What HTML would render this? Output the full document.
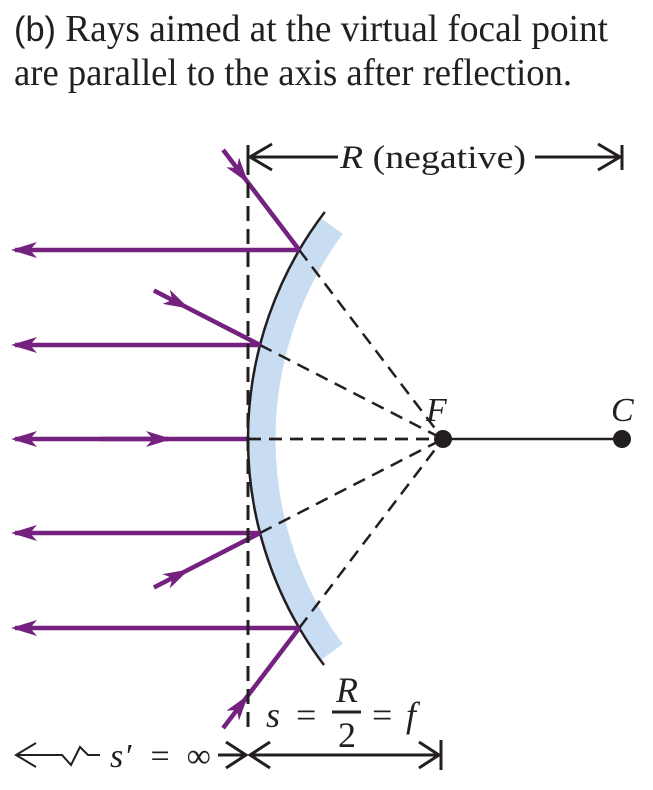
<!DOCTYPE html>
<html><head><meta charset="utf-8"><style>
html,body{margin:0;padding:0;background:#fff;}
svg{display:block;}
text{font-family:"Liberation Serif",serif;fill:#231f20;}
</style></head><body>
<svg id="fig" width="653" height="790" viewBox="0 0 653 790" xmlns="http://www.w3.org/2000/svg">
<defs>
<marker id="ah" viewBox="0 0 26 16" refX="22" refY="8" markerWidth="26" markerHeight="16" markerUnits="userSpaceOnUse" orient="auto">
<path d="M0,0 L26,8 L0,16 L7,8 Z" fill="#74217f"/>
</marker>
</defs>
<text x="14" y="41" font-size="38" textLength="594" lengthAdjust="spacingAndGlyphs"><tspan font-family="Liberation Sans, sans-serif" font-size="35">(b)</tspan> Rays aimed at the virtual focal point</text>
<text x="14" y="85" font-size="38" textLength="558" lengthAdjust="spacingAndGlyphs">are parallel to the axis after reflection.</text>
<g id="mirror"></g>
<g id="rays"></g>
<g id="dims"></g>
</svg>
<script>
const rayHitY = [250, 345, 439, 533, 628];
const rayStartT = [1.53, 1.58, 0, 1.58, 1.53];
const axisY = 439, vertexX = 248, centerX = 622, focusX = 443, R = 374;
const NS = "http://www.w3.org/2000/svg";
const P = "#74217f";
function el(tag, attrs, parent){const e=document.createElementNS(NS,tag);for(const k in attrs)e.setAttribute(k,attrs[k]);parent.appendChild(e);return e;}
function mx(y){const dy=y-axisY;return centerX-Math.sqrt(R*R-dy*dy);}
const mirror=document.getElementById('mirror'), rays=document.getElementById('rays'), dims=document.getElementById('dims');
const rb=360, a1=Math.asin(-213/rb), a2=Math.asin(213/rb);
const bx1=centerX-rb*Math.cos(a1), by1=axisY+rb*Math.sin(a1), bx2=centerX-rb*Math.cos(a2), by2=axisY+rb*Math.sin(a2);
let b=el('path',{d:`M${bx1},${by1} A${rb},${rb} 0 0 0 ${bx2},${by2}`,fill:'none',stroke:'#c9ddf2','stroke-width':27},mirror);


const ty=212, by=665;
let m=el('path',{d:`M${mx(ty)},${ty} A${R},${R} 0 0 0 ${mx(by)},${by}`,fill:'none',stroke:'#231f20','stroke-width':2.5},mirror);


let v=el('line',{x1:vertexX,y1:160,x2:vertexX,y2:735,stroke:'#231f20','stroke-width':3,'stroke-dasharray':'15 8'},dims);


let ad=el('line',{x1:vertexX,y1:axisY,x2:focusX,y2:axisY,stroke:'#231f20','stroke-width':2.5,'stroke-dasharray':'13 8'},dims);


let as=el('line',{x1:focusX,y1:axisY,x2:centerX,y2:axisY,stroke:'#231f20','stroke-width':2.5},dims);


rayHitY.forEach((y,i)=>{
  const hx=mx(y);
  const d=el('line',{x1:hx,y1:y,x2:focusX,y2:axisY,stroke:'#231f20','stroke-width':2.5,'stroke-dasharray':'13 8'},rays);
  
  
  const r=el('line',{x1:hx,y1:y,x2:15,y2:y,stroke:P,'stroke-width':4.5,'marker-end':'url(#ah)'},rays);
  
  
  const t=rayStartT[i];
  if(t>0){
    const sx=focusX+(hx-focusX)*t, sy=axisY+(y-axisY)*t;
    const mxp=sx+(hx-sx)*0.3, myp=sy+(y-sy)*0.3;
    const a=el('line',{x1:sx,y1:sy,x2:mxp,y2:myp,stroke:P,'stroke-width':4.5,'marker-end':'url(#ah)'},rays);
    
    
    const c=el('line',{x1:mxp,y1:myp,x2:hx,y2:y,stroke:P,'stroke-width':4.5},rays);
    
    
  } else {
    const a=el('line',{x1:100,y1:y,x2:168,y2:y,stroke:P,'stroke-width':4.5,'marker-end':'url(#ah)'},rays);
    
    
  }
});
[[focusX,'F'],[centerX,'C']].forEach(([x,l])=>{
  const c=el('circle',{cx:x,cy:axisY,r:9,fill:'#231f20'},dims);
  
  
  const t=el('text',{x:x-(l==='F'?17:11),y:axisY-18,'font-size':34,'font-style':'italic'},dims);
  t.textContent=l;
  
  
});
</script>
<svg style="position:absolute;left:0;top:0" width="653" height="790">
<g stroke="#231f20" stroke-width="3" fill="none">
<line x1="248" y1="145" x2="248" y2="170"/><line x1="622" y1="145" x2="622" y2="170"/>
<line x1="250" y1="157" x2="338" y2="157"/><polyline points="272,144 250,157 272,170"/>
<line x1="535" y1="157" x2="620" y2="157"/><polyline points="598,144 620,157 598,170"/>
<line x1="441" y1="740" x2="441" y2="770"/>
<line x1="250" y1="755" x2="439" y2="755"/><polyline points="270,742 250,755 270,768"/><polyline points="419,742 439,755 419,768"/>
<line x1="218" y1="755" x2="246" y2="755"/><polyline points="226,742 246,755 226,768"/>
<polyline stroke-width="2" points="36,743 16,755 36,767"/>
<polyline stroke-width="2" points="16,755 62,755 71,765 80,747 88,755 100,755"/>
</g>
<text x="340" y="168" font-size="33" textLength="186" lengthAdjust="spacingAndGlyphs"><tspan font-style="italic">R</tspan> (negative)</text>
<text x="110" y="767" font-size="34" font-style="italic">s</text>
<text x="126" y="767" font-size="34">′ &#160;= &#160;∞</text>
<text x="266" y="727" font-size="36" font-style="italic">s</text>
<text x="296" y="727" font-size="36">=</text>
<text x="336" y="702" font-size="36" font-style="italic">R</text>
<line x1="332" y1="712" x2="361" y2="712" stroke="#231f20" stroke-width="3"/>
<text x="338" y="747" font-size="36">2</text>
<text x="372" y="727" font-size="36">=</text>
<text x="406" y="727" font-size="36" font-style="italic">f</text>
</svg>
</body></html>
